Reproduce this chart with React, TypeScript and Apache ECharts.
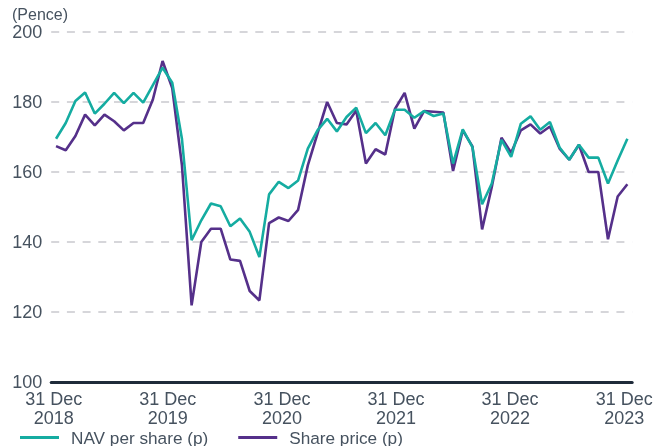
import React, { useEffect, useRef } from "react";
import * as echarts from "echarts";

// Month-end points, Jan 2019 .. Dec 2023
const months: string[] = (() => {
  const names = ["Jan", "Feb", "Mar", "Apr", "May", "Jun", "Jul", "Aug", "Sep", "Oct", "Nov", "Dec"];
  const out: string[] = [];
  for (let y = 2019; y <= 2023; y++) for (const m of names) out.push(`${m} ${y}`);
  return out;
})();

const navPerShare = [
  169.5, 174, 180.3, 182.7, 176.7, 179.5, 182.6, 179.7, 182.6, 179.8, 184.8, 189.8,
  185.5, 169.5, 140.5, 146.2, 151, 150.2, 144.5, 146.7, 142.9, 135.7, 153.6, 157.2,
  155.4, 157.6, 166.7, 171.9, 175.2, 171.6, 175.7, 178.4, 171.1, 174, 170.5, 177.8,
  177.8, 175.5, 177.4, 176, 176.7, 162.4, 172.2, 167.1, 150.8, 156.7, 169.2, 164.3,
  173.8, 175.9, 172.1, 174.3, 167, 163.5, 167.8, 164.1, 164.1, 156.7, 163.3, 169.5,
];

const sharePrice = [
  167.4, 166.2, 170.3, 176.4, 173.3, 176.4, 174.5, 171.9, 174, 174, 180.7, 191.7,
  184, 162, 121.9, 140, 143.8, 143.8, 135, 134.6, 126, 123.3, 145.4, 147,
  146, 149.2, 161.9, 171, 180, 174, 173.6, 177.6, 162.4, 166.5, 165, 178,
  182.6, 172.4, 177.4, 177.2, 177, 160.3, 171.9, 167.3, 143.6, 155.7, 169.8, 165.5,
  171.9, 173.6, 171, 173, 166.7, 163.5, 167.8, 160, 160, 140.8, 153, 156.5,
];

const yearLabels = [2018, 2019, 2020, 2021, 2022, 2023];
const yTicks = { min: 100, max: 200, interval: 20 };
const seriesNames = ["NAV per share (p)", "Share price (p)"];

const TEXT = "#46525f";
const FONT = "'Liberation Sans', Arial, sans-serif";
const TEAL = "#15aca1";
const PURPLE = "#55308a";

export default function App() {
  const ref = useRef<HTMLDivElement>(null);
  useEffect(() => {
    if (!ref.current) return;
    const chart = echarts.init(ref.current, undefined, { renderer: "svg" });
    const gridLeft = 51.2;
    const gridWidth = 581;
    const pxPerYear = 114.1;
    const firstLabelPx = 53.7;
    const vMin = yearLabels[0] - (firstLabelPx - gridLeft) / pxPerYear;
    const vMax = vMin + gridWidth / pxPerYear;
    chart.setOption({
      animation: false,
      textStyle: { fontFamily: FONT },
      grid: { left: gridLeft, top: 32, width: gridWidth, height: 350, containLabel: false },
      graphic: [
        {
          type: "text",
          left: 12,
          top: 6,
          style: { text: "(Pence)", fontSize: 16, fill: TEXT, fontFamily: FONT },
        },
      ],
      legend: {
        data: seriesNames.map((name) => ({ name, icon: "rect" })),
        left: 20,
        top: 429,
        padding: 0,
        itemWidth: 39,
        itemHeight: 3,
        itemGap: 30,
        textStyle: { fontSize: 17.2, color: TEXT, fontFamily: FONT, padding: [0, 0, 0, 7] },
      },
      xAxis: [
        {
          type: "category",
          data: months,
          boundaryGap: true,
          axisLine: { show: true, lineStyle: { color: "#1f2b3a", width: 3 } },
          axisTick: { show: false },
          axisLabel: { show: false },
          splitLine: { show: false },
        },
        {
          type: "value",
          position: "bottom",
          min: vMin,
          max: vMax,
          axisLine: { show: false },
          axisTick: { show: false },
          splitLine: { show: false },
          axisLabel: {
            customValues: yearLabels,
            formatter: (v: number) => `31 Dec\n${Math.round(v)}`,
            fontSize: 18,
            lineHeight: 19,
            color: TEXT,
            fontFamily: FONT,
            margin: 7,
          },
        },
      ],
      yAxis: {
        type: "value",
        min: yTicks.min,
        max: yTicks.max,
        interval: yTicks.interval,
        axisLine: { show: false },
        axisTick: { show: false },
        axisLabel: { fontSize: 18, color: TEXT, fontFamily: FONT, margin: 9 },
        splitLine: { show: true, lineStyle: { color: "#c9c9ce", width: 1.5, type: [8, 7.7] } },
      },
      series: [
        {
          name: seriesNames[0],
          type: "line",
          data: navPerShare,
          symbol: "none",
          z: 3,
          lineStyle: { color: TEAL, width: 2.6 },
          itemStyle: { color: TEAL },
        },
        {
          name: seriesNames[1],
          type: "line",
          data: sharePrice,
          symbol: "none",
          z: 2,
          lineStyle: { color: PURPLE, width: 2.6 },
          itemStyle: { color: PURPLE },
        },
      ],
    });
    return () => chart.dispose();
  }, []);
  return (
    <div
      ref={ref}
      style={{ position: "fixed", left: 0, top: 0, width: 662, height: 446 }}
    />
  );
}
